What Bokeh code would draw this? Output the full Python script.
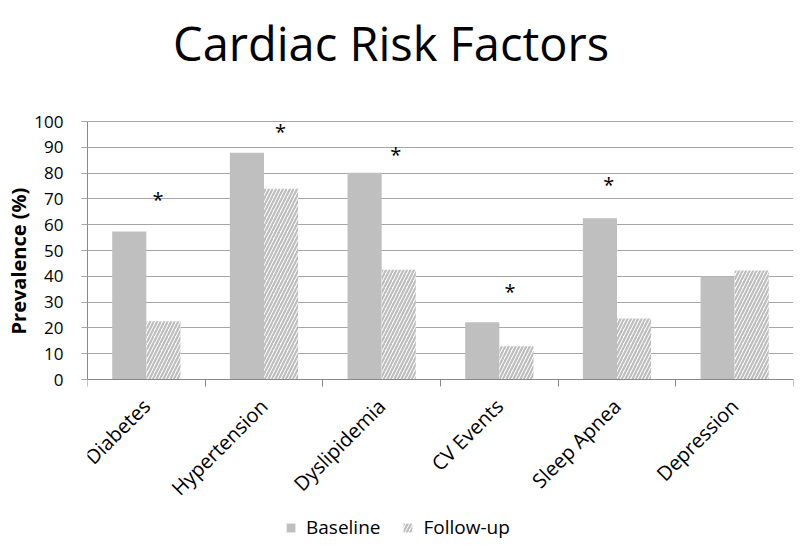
import math
from bokeh.plotting import figure
from bokeh.models import (Range1d, FixedTicker, Legend, LegendItem, Label,
                          Title, ColumnDataSource)
from bokeh.core.properties import value
from bokeh.embed import file_html
from bokeh.resources import INLINE

categories = ["Diabetes", "Hypertension", "Dyslipidemia", "CV Events", "Sleep Apnea", "Depression"]
baseline = [57.4, 87.9, 80.1, 22.2, 62.5, 39.9]
followup = [22.6, 73.9, 42.5, 12.9, 23.6, 42.2]
star_cats = ["Diabetes", "Hypertension", "Dyslipidemia", "CV Events", "Sleep Apnea"]
star_y = [70.0, 96.5, 87.5, 34.5, 76.1]
star_dx = [0.10, 0.14, 0.12, 0.09, -0.07]
y_ticks = [0, 10, 20, 30, 40, 50, 60, 70, 80, 90, 100]

FONT = "Open Sans"
BAR_W = 0.29
PX_PER_UNIT = 2.58          # 258 px for 0..100
FRAME_H = 545
ZERO_FROM_TOP = 379          # pixel row of value 0
Y_START = -(FRAME_H - ZERO_FROM_TOP) / PX_PER_UNIT
Y_END = ZERO_FROM_TOP / PX_PER_UNIT

centers = [i + 0.5 for i in range(len(categories))]
src_b = ColumnDataSource(dict(x=[c - BAR_W / 2 for c in centers], top=baseline))
src_f = ColumnDataSource(dict(x=[c + BAR_W / 2 for c in centers], top=followup))
star_x = [categories.index(c) + 0.5 + d for c, d in zip(star_cats, star_dx)]
src_s = ColumnDataSource(dict(x=star_x, y=star_y, t=["*"] * len(star_x)))

p = figure(frame_width=706, frame_height=FRAME_H,
           min_border_left=87, min_border_right=7,
           min_border_top=0, min_border_bottom=0,
           x_range=Range1d(0, len(categories)), y_range=Range1d(Y_START, Y_END),
           output_backend="svg", toolbar_location=None, tools="")
p.outline_line_color = None
p.background_fill_color = "white"
p.border_fill_color = "white"

rb = p.vbar(x="x", top="top", width=BAR_W, bottom=0, source=src_b,
            fill_color="#bfbfbf", line_color=None)
rf = p.vbar(x="x", top="top", width=BAR_W, bottom=0, source=src_f,
            fill_color="white", line_color=None,
            hatch_pattern="right_diagonal_line", hatch_color="#bdbdbd",
            hatch_scale=7, hatch_weight=2.2)

p.text(x="x", y="y", text="t", source=src_s, text_font=value(FONT),
       text_font_size="20px", text_align="center", text_baseline="middle",
       text_color="#000000", y_offset=1)

# title
p.add_layout(Label(x=2.58, y=130.6, text="Cardiac Risk Factors",
                   text_font=FONT, text_font_size="47px",
                   text_align="center", text_baseline="alphabetic",
                   text_color="#000000"))

# axes
p.xgrid.visible = False
p.ygrid.grid_line_color = "#a6a6a6"
p.ygrid.grid_line_width = 1
p.ygrid.bounds = (0, 100)

xa = p.xaxis[0]
xa.fixed_location = 0
xa.ticker = FixedTicker(ticks=centers, minor_ticks=list(range(len(categories) + 1)))
xa.major_label_overrides = {c: n for c, n in zip(centers, categories)}
xa.major_tick_line_color = None
xa.major_tick_in = 0
xa.major_tick_out = 0
xa.minor_tick_line_color = "#888888"
xa.minor_tick_in = 0
xa.minor_tick_out = 7
xa.axis_line_color = "#888888"
xa.major_label_orientation = math.pi / 4
xa.major_label_text_font = FONT
xa.major_label_text_font_size = "20px"
xa.major_label_text_color = "#000000"
xa.major_label_standoff = 16

ya = p.yaxis[0]
ya.ticker = FixedTicker(ticks=y_ticks)
ya.bounds = (0, 100)
ya.axis_line_color = "#888888"
ya.major_tick_line_color = "#a6a6a6"
ya.major_tick_in = 0
ya.major_tick_out = 6
ya.minor_tick_line_color = None
ya.major_label_text_font = FONT
ya.major_label_text_font_size = "17px"
ya.major_label_text_color = "#000000"
ya.major_label_standoff = 18

# y-axis title, placed along the 0-100 part of the axis
p.add_layout(Title(text="Prevalence (%)", align="left", offset=211,
                   vertical_align="bottom", standoff=0,
                   text_font=FONT, text_font_style="bold",
                   text_font_size="20px", text_color="#000000"), "left")

legend = Legend(items=[LegendItem(label="Baseline", renderers=[rb]),
                       LegendItem(label="Follow-up", renderers=[rf])],
                location=(198, 5), orientation="horizontal",
                padding=0, margin=0, spacing=22, label_standoff=10,
                glyph_width=11, glyph_height=11, label_height=16,
                label_text_font=FONT, label_text_font_size="19px",
                label_text_color="#000000",
                border_line_color=None, background_fill_alpha=0)
p.add_layout(legend, "center")

open("out.html", "w").write(file_html(p, INLINE))
